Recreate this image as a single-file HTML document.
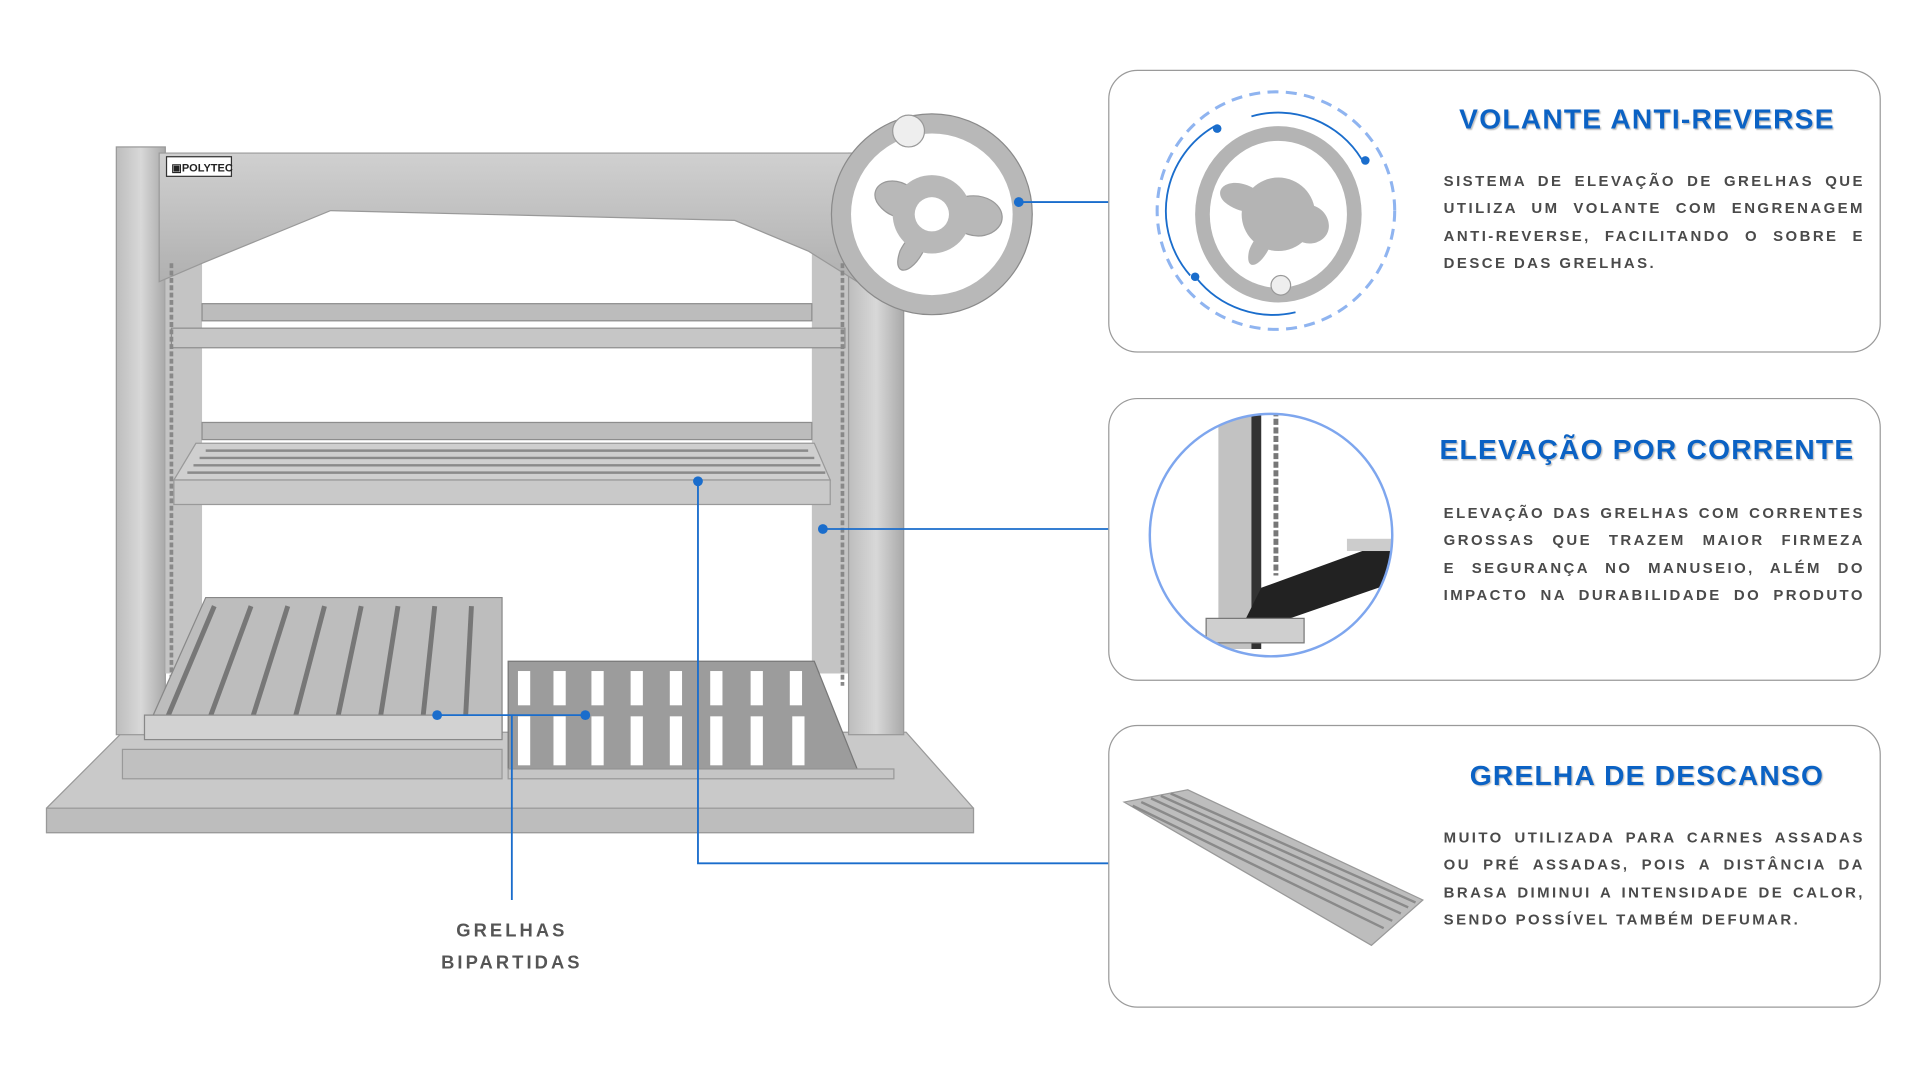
<!DOCTYPE html>
<html><head><meta charset="utf-8"><style>
html,body{margin:0;padding:0;background:#fff;width:1920px;height:1080px;overflow:hidden}
#w{position:absolute;left:0;top:0;width:1568px;height:882px;transform:scale(1.2245);transform-origin:0 0;font-family:"Liberation Sans",sans-serif}
.card{position:absolute;left:905px;width:629px;height:229px;border:1.5px solid #9a9a9a;border-radius:24px;background:#fff}
.t{position:absolute;left:1150px;width:390px;text-align:center;color:#0b62c4;font-weight:bold;font-size:23px;letter-spacing:1px;text-shadow:1px 1px 1px rgba(0,0,0,.25)}
.b{position:absolute;left:1179px;width:344px;color:#4a4a4a;font-size:12.2px;font-weight:bold;letter-spacing:2px}
.b div{height:22.4px;line-height:22.4px;text-align:justify;text-align-last:justify;white-space:nowrap}
.b div.l{text-align-last:left}
.lab{position:absolute;left:330px;width:176px;text-align:center;color:#555;font-weight:bold;font-size:15px;letter-spacing:2.5px;line-height:26px}
svg{position:absolute;left:0;top:0}
</style></head><body><div id="w">
<div class="card" style="top:57px"></div>
<div class="card" style="top:325px"></div>
<div class="card" style="top:592px"></div>

<svg width="1568" height="882" viewBox="0 0 1568 882">
<defs>
<linearGradient id="st" x1="0" x2="1"><stop offset="0" stop-color="#bdbdbd"/><stop offset=".5" stop-color="#d8d8d8"/><stop offset="1" stop-color="#a9a9a9"/></linearGradient>
<linearGradient id="sv" x1="0" y1="0" x2="0" y2="1"><stop offset="0" stop-color="#d0d0d0"/><stop offset="1" stop-color="#b0b0b0"/></linearGradient>
</defs>
<polygon points="100,598 740,598 795,660 795,680 38,680 38,660" fill="#c9c9c9" stroke="#999"/>
<rect x="38" y="660" width="757" height="20" fill="#bdbdbd" stroke="#999"/>
<rect x="95" y="120" width="40" height="480" fill="url(#st)" stroke="#999"/>
<rect x="135" y="180" width="30" height="370" fill="#c4c4c4"/>
<rect x="663" y="180" width="30" height="370" fill="#c4c4c4"/>
<rect x="693" y="125" width="45" height="475" fill="url(#st)" stroke="#999"/>
<path d="M130,125 L700,125 L700,230 L660,205 L600,180 L270,172 L165,215 L130,230 Z" fill="url(#sv)" stroke="#999"/>
<rect x="136" y="128" width="53" height="16" fill="#fff" stroke="#333"/>
<text x="140" y="140" font-size="9" font-weight="bold" fill="#222" font-family="Liberation Sans">▣POLYTEC</text>
<rect x="165" y="248" width="498" height="14" fill="#bcbcbc" stroke="#8d8d8d"/>
<rect x="140" y="268" width="550" height="16" fill="#c6c6c6" stroke="#8d8d8d"/>
<rect x="165" y="345" width="498" height="14" fill="#bcbcbc" stroke="#8d8d8d"/>
<polygon points="160,362 665,362 678,392 142,392" fill="#cfcfcf" stroke="#999"/>
<g stroke="#8a8a8a" stroke-width="2">
<line x1="168" y1="368" x2="660" y2="368"/><line x1="163" y1="374" x2="665" y2="374"/><line x1="158" y1="380" x2="670" y2="380"/><line x1="153" y1="386" x2="674" y2="386"/></g>
<rect x="142" y="392" width="536" height="20" fill="#c9c9c9" stroke="#999"/>
<line x1="140" y1="215" x2="140" y2="560" stroke="#888" stroke-width="3" stroke-dasharray="4 2"/>
<line x1="688" y1="215" x2="688" y2="560" stroke="#888" stroke-width="3" stroke-dasharray="4 2"/>
<polygon points="168,488 410,488 410,600 118,600" fill="#bdbdbd" stroke="#888"/>
<g stroke="#777" stroke-width="4">
<line x1="175" y1="495" x2="135" y2="590"/><line x1="205" y1="495" x2="170" y2="590"/><line x1="235" y1="495" x2="205" y2="590"/><line x1="265" y1="495" x2="240" y2="590"/><line x1="295" y1="495" x2="275" y2="590"/><line x1="325" y1="495" x2="310" y2="590"/><line x1="355" y1="495" x2="345" y2="590"/><line x1="385" y1="495" x2="380" y2="590"/></g>
<rect x="118" y="584" width="292" height="20" fill="#d2d2d2" stroke="#888"/>
<rect x="100" y="612" width="310" height="24" fill="#c0c0c0" stroke="#999"/>
<polygon points="415,540 665,540 700,628 415,628" fill="#9c9c9c" stroke="#777"/>
<g fill="#fff">
<rect x="423" y="585" width="10" height="40"/><rect x="452" y="585" width="10" height="40"/><rect x="483" y="585" width="10" height="40"/><rect x="515" y="585" width="10" height="40"/><rect x="547" y="585" width="10" height="40"/><rect x="580" y="585" width="10" height="40"/><rect x="613" y="585" width="10" height="40"/><rect x="647" y="585" width="10" height="40"/>
<rect x="423" y="548" width="10" height="28"/><rect x="452" y="548" width="10" height="28"/><rect x="483" y="548" width="10" height="28"/><rect x="515" y="548" width="10" height="28"/><rect x="547" y="548" width="10" height="28"/><rect x="580" y="548" width="10" height="28"/><rect x="613" y="548" width="10" height="28"/><rect x="645" y="548" width="10" height="28"/></g>
<rect x="415" y="628" width="315" height="8" fill="#c5c5c5" stroke="#999"/>
<circle cx="761" cy="175" r="82" fill="#b8b8b8" stroke="#8a8a8a"/>
<circle cx="761" cy="175" r="66" fill="#fff"/>
<path d="M761,175 C740,130 700,150 720,170 C735,185 755,175 761,175 Z M761,175 C800,140 835,175 810,190 C790,200 775,180 761,175 Z M761,175 C760,220 725,235 735,205 C742,190 755,185 761,175 Z" fill="#b8b8b8" stroke="#999"/>
<circle cx="761" cy="175" r="32" fill="#b8b8b8"/>
<circle cx="761" cy="175" r="14" fill="#fff"/>
<circle cx="742" cy="107" r="13" fill="#eee" stroke="#999"/>
<g stroke="#1a6dcc" stroke-width="1.5" fill="none">
<polyline points="832,165 905,165"/><polyline points="672,432 905,432"/>
<polyline points="570,393 570,705 905,705"/>
<polyline points="357,584 478,584"/><polyline points="418,584 418,735"/></g>
<g fill="#1a6dcc"><circle cx="832" cy="165" r="4"/><circle cx="672" cy="432" r="4"/><circle cx="570" cy="393" r="4"/><circle cx="357" cy="584" r="4"/><circle cx="478" cy="584" r="4"/></g>

<circle cx="1042" cy="172" r="97" fill="none" stroke="#8fb4f0" stroke-width="2.5" stroke-dasharray="9 6"/>
<path d="M972,225 A80,80 0 0 1 992,103" fill="none" stroke="#1a6dcc" stroke-width="1.5"/>
<path d="M1022,95 A80,80 0 0 1 1112,130" fill="none" stroke="#1a6dcc" stroke-width="1.5"/>
<path d="M977,227 A80,80 0 0 0 1058,255" fill="none" stroke="#1a6dcc" stroke-width="1.5"/>
<g fill="#1a6dcc"><circle cx="994" cy="105" r="3.5"/><circle cx="1115" cy="131" r="3.5"/><circle cx="976" cy="226" r="3.5"/></g>
<ellipse cx="1044" cy="175" rx="68" ry="72" fill="#b4b4b4"/>
<ellipse cx="1044" cy="175" rx="56" ry="60" fill="#fff"/>
<path d="M1044,175 C1020,135 985,150 1000,165 C1015,178 1035,172 1044,175 Z M1044,175 C1080,150 1098,190 1075,198 C1058,203 1050,185 1044,175 Z M1044,175 C1040,215 1015,228 1020,205 C1025,190 1038,185 1044,175 Z" fill="#b4b4b4"/>
<circle cx="1044" cy="175" r="30" fill="#b4b4b4"/>
<circle cx="1046" cy="233" r="8" fill="#eee" stroke="#999"/>

<clipPath id="cc"><ellipse cx="1038" cy="437" rx="99" ry="99"/></clipPath>
<g clip-path="url(#cc)">
<rect x="930" y="330" width="220" height="220" fill="#fff"/>
<rect x="995" y="330" width="30" height="200" fill="#c2c2c2"/>
<rect x="1022" y="330" width="8" height="200" fill="#333"/>
<line x1="1042" y1="335" x2="1042" y2="470" stroke="#777" stroke-width="4" stroke-dasharray="5 2"/>
<polygon points="1030,480 1140,440 1140,475 1010,520" fill="#222"/>
<rect x="985" y="505" width="80" height="20" fill="#cfcfcf" stroke="#777"/>
<rect x="1100" y="440" width="40" height="10" fill="#ccc"/>
</g>
<ellipse cx="1038" cy="437" rx="99" ry="99" fill="none" stroke="#7ea6ee" stroke-width="2"/>

<polygon points="918,655 970,645 1162,735 1120,772" fill="#bdbdbd" stroke="#999"/>
<g stroke="#8a8a8a" stroke-width="2">
<line x1="925" y1="658" x2="1130" y2="758"/><line x1="932" y1="655" x2="1137" y2="752"/><line x1="940" y1="652" x2="1144" y2="746"/><line x1="948" y1="650" x2="1150" y2="741"/><line x1="956" y1="648" x2="1156" y2="737"/></g>
</svg>

<div class="t" style="top:84px">VOLANTE ANTI-REVERSE</div>
<div class="b" style="top:137px"><div>SISTEMA DE ELEVAÇÃO DE GRELHAS QUE</div><div>UTILIZA UM VOLANTE COM ENGRENAGEM</div><div>ANTI-REVERSE, FACILITANDO O SOBRE E</div><div class="l">DESCE DAS GRELHAS.</div></div>

<div class="t" style="top:354px">ELEVAÇÃO POR CORRENTE</div>
<div class="b" style="top:408px"><div>ELEVAÇÃO DAS GRELHAS COM CORRENTES</div><div>GROSSAS QUE TRAZEM MAIOR FIRMEZA</div><div>E SEGURANÇA NO MANUSEIO, ALÉM DO</div><div>IMPACTO NA DURABILIDADE DO PRODUTO</div></div>

<div class="t" style="top:620px">GRELHA DE DESCANSO</div>
<div class="b" style="top:673px"><div>MUITO UTILIZADA PARA CARNES ASSADAS</div><div>OU PRÉ ASSADAS, POIS A DISTÂNCIA DA</div><div>BRASA DIMINUI A INTENSIDADE DE CALOR,</div><div class="l">SENDO POSSÍVEL TAMBÉM DEFUMAR.</div></div>

<div class="lab" style="top:748px">GRELHAS<br>BIPARTIDAS</div>
</div></body></html>
